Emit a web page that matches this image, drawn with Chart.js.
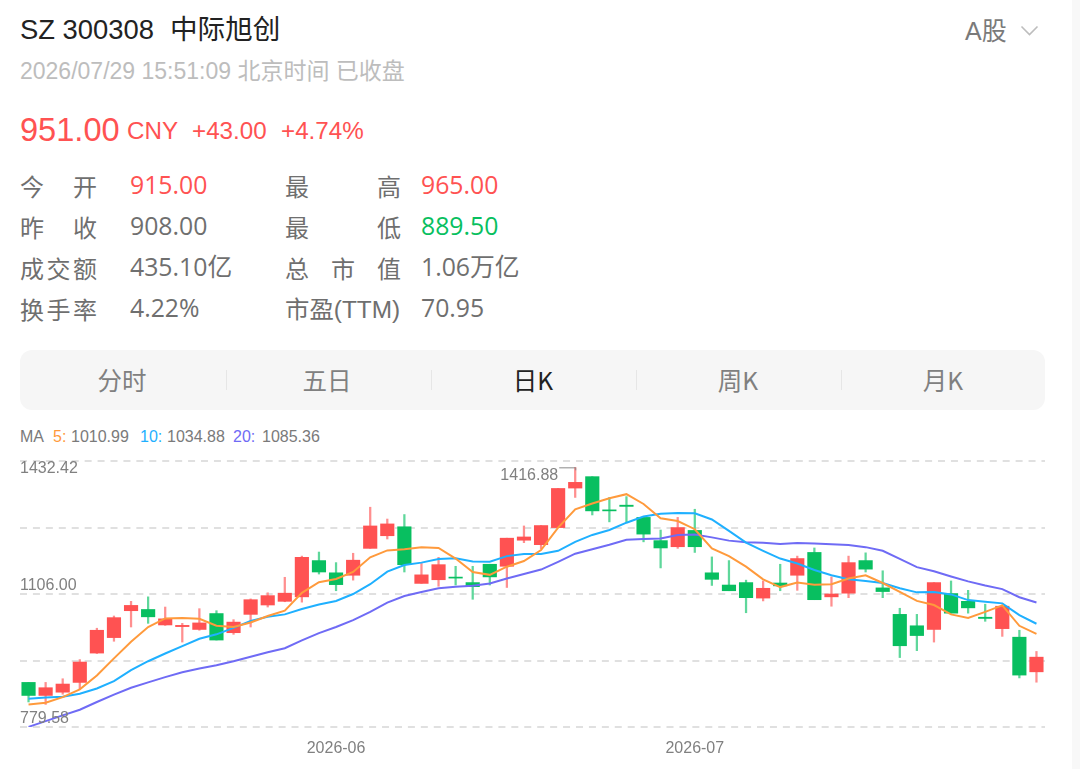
<!DOCTYPE html>
<html lang="zh">
<head>
<meta charset="utf-8">
<title>SZ 300308 中际旭创</title>
<script src="https://cdn.jsdelivr.net/npm/chart.js@4"></script>
<style>
html,body{margin:0;padding:0;background:#fff;width:1080px;height:769px;overflow:hidden}
body{position:relative;font-family:"Liberation Sans","Noto Sans CJK SC",sans-serif}
.strip{position:absolute;left:1072px;top:0;width:8px;height:769px;background:#f8f8f8}
.t{position:absolute;white-space:nowrap;line-height:1;transform:translateY(-50%)}
.m{font-family:"Open Sans","Noto Sans CJK SC",sans-serif;font-size:24.8px;color:#6f6f6f}
.l{font-size:24px}
.red{color:#ff5252}.green{color:#08bf60}
.lab{display:flex;justify-content:space-between}
.tabs{position:absolute;left:20px;top:350px;width:1025px;height:60px;background:#f6f6f6;border-radius:12px}
.tab{position:absolute;top:379.5px;font-size:24.5px;color:#808080;line-height:1;transform:translate(-50%,-50%);white-space:nowrap;font-family:"Noto Sans CJK SC","Liberation Sans",sans-serif}
.div{position:absolute;top:370px;width:1px;height:20px;background:#e6e6e6}
canvas{position:absolute;left:0;top:0}
</style>
</head>
<body>
<div class="strip"></div>
<div class="t" style="left:20px;top:30px;font-size:27.4px;color:#222">SZ 300308</div>
<div class="t" style="left:170px;top:29.5px;font-size:27.6px;color:#222">中际旭创</div>
<div class="t" style="left:965px;top:31px;font-size:25px;color:#7a7a7a">A股</div>
<svg style="position:absolute;left:1020px;top:24px" width="20" height="14"><path d="M1.5 2.5 L9.5 10.5 L17.5 2.5" fill="none" stroke="#bdbdbd" stroke-width="1.6"/></svg>
<div class="t" style="left:20px;top:71px;font-size:23px;color:#bdbdbd">2026/07/29 15:51:09 北京时间 已收盘</div>
<div class="t red" style="left:20px;top:130px;font-size:32.6px">951.00</div>
<div class="t red" style="left:127px;top:131px;font-size:24.2px">CNY</div>
<div class="t red" style="left:192px;top:131px;font-size:24.2px">+43.00</div>
<div class="t red" style="left:281px;top:131px;font-size:24.2px">+4.74%</div>

<div class="t m l lab" style="left:20px;top:187px;width:77px"><span>今</span><span>开</span></div>
<div class="t m l lab" style="left:20px;top:228px;width:77px"><span>昨</span><span>收</span></div>
<div class="t m l lab" style="left:20px;top:269px;width:77px"><span>成</span><span>交</span><span>额</span></div>
<div class="t m l lab" style="left:20px;top:310px;width:77px"><span>换</span><span>手</span><span>率</span></div>
<div class="t m red" style="left:130px;top:184px">915.00</div>
<div class="t m" style="left:130px;top:225px">908.00</div>
<div class="t m" style="left:130px;top:266px">435.10亿</div>
<div class="t m" style="left:130px;top:307px">4.22%</div>

<div class="t m l lab" style="left:285px;top:187px;width:116px"><span>最</span><span>高</span></div>
<div class="t m l lab" style="left:285px;top:228px;width:116px"><span>最</span><span>低</span></div>
<div class="t m l lab" style="left:285px;top:269px;width:116px"><span>总</span><span>市</span><span>值</span></div>
<div class="t m l" style="left:285px;top:310px;font-family:'Liberation Sans','Noto Sans CJK SC',sans-serif;font-size:24.4px">市盈(TTM)</div>
<div class="t m red" style="left:421px;top:184px">965.00</div>
<div class="t m green" style="left:421px;top:225px">889.50</div>
<div class="t m" style="left:421px;top:266px">1.06万亿</div>
<div class="t m" style="left:421px;top:307px">70.95</div>

<div class="tabs"></div>
<div class="tab" style="left:122px">分时</div>
<div class="tab" style="left:327px">五日</div>
<div class="tab" style="left:533px;color:#222">日K</div>
<div class="tab" style="left:738px">周K</div>
<div class="tab" style="left:943px">月K</div>
<div class="div" style="left:225.5px"></div>
<div class="div" style="left:430.5px"></div>
<div class="div" style="left:635.5px"></div>
<div class="div" style="left:840.5px"></div>

<div class="t" style="left:20px;top:437px;font-size:16px;color:#7a7a7a">MA</div>
<div class="t" style="left:53px;top:437px;font-size:16px;color:#ff9a3c">5:</div>
<div class="t" style="left:71px;top:437px;font-size:16px;color:#7a7a7a">1010.99</div>
<div class="t" style="left:140px;top:437px;font-size:16px;color:#1fb0ff">10:</div>
<div class="t" style="left:167px;top:437px;font-size:16px;color:#7a7a7a">1034.88</div>
<div class="t" style="left:233px;top:437px;font-size:16px;color:#6f6bf5">20:</div>
<div class="t" style="left:262px;top:437px;font-size:16px;color:#7a7a7a">1085.36</div>

<canvas id="c" width="1080" height="769"></canvas>
<script>
const categories = [
"2026-05-06","2026-05-07","2026-05-08","2026-05-11","2026-05-12","2026-05-13","2026-05-14","2026-05-15","2026-05-18","2026-05-19",
"2026-05-20","2026-05-21","2026-05-22","2026-05-25","2026-05-26","2026-05-27","2026-05-28","2026-05-29","2026-06-01","2026-06-02",
"2026-06-03","2026-06-04","2026-06-05","2026-06-08","2026-06-09","2026-06-10","2026-06-11","2026-06-12","2026-06-15","2026-06-16",
"2026-06-17","2026-06-18","2026-06-22","2026-06-23","2026-06-24","2026-06-25","2026-06-26","2026-06-29","2026-06-30","2026-07-01",
"2026-07-02","2026-07-03","2026-07-06","2026-07-07","2026-07-08","2026-07-09","2026-07-10","2026-07-13","2026-07-14","2026-07-15",
"2026-07-16","2026-07-17","2026-07-20","2026-07-21","2026-07-22","2026-07-23","2026-07-24","2026-07-27","2026-07-28","2026-07-29"];
const opens = [889,857,865,889,961,999,1065,1068,1030,1026,1019,1058,1011,1056,1079,1088,1099,1188,1158,1152,
1218,1249,1271,1132,1141,1147.5,1134,1179,1174,1238,1227,1269,1366,1394,1312.5,1324,1294,1237,1222,1262,
1158,1128,1134,1096,1133,1152,1208,1099,1108,1188,1121,1056,1028,1019,1107,1088,1049,1021,1000,915];
const highs = [889,889,898,945,1022,1052,1088,1099,1074,1034,1070,1065,1043,1094,1109,1147,1199,1209,1183,1206,
1319,1290,1301,1181,1196,1174,1174,1179,1243,1273,1274,1365,1416.88,1394,1343,1345,1296,1263,1294,1314,
1197,1188,1140,1138,1179,1199,1219,1148,1199,1207,1163,1071,1056,1134,1138,1115,1081,1079,1017,965];
const lows = [841,835,860,873,960,990,1025,1034,1029,988,1017,993,1007,1025,1074,1087,1086,1155,1114,1140,
1218,1241,1160,1132,1125,1128,1093,1128,1122,1232,1217,1269,1343,1300,1283,1283,1234,1170,1218,1208,
1127,1114,1060,1089,1114,1115,1092,1076,1097,1160,1097,950,967,988,1059,1059,1039,1002,900,889.5];
const closes = [857,876,885,939,1017,1048,1078,1050,1045,1029,1035,993,1037,1092,1102,1108,1196,1160,1129,1189,
1273,1278,1178,1153,1178,1145,1124,1148,1243,1246,1274,1365,1380,1310,1310,1321,1253,1219,1269,1222,
1142,1114,1097,1120,1126,1193,1092,1106,1183,1167,1112,979,1004,1134,1059,1072,1046,1076,907,951];
const ma5 = [835,839,853,872,906,948,989,1025,1046,1047,1045,1028,1025,1036,1052,1065,1109,1135,1143,1160,
1196,1213,1216,1221,1219,1193,1160,1153,1173,1187,1214,1269,1314,1328,1341,1351,1327,1292,1285,1265,
1218,1199,1173,1142,1123,1134,1129,1130,1144,1152,1133,1111,1089,1079,1056,1047,1062,1078,1028,1008];
const ma10 = [849,852,854,861,874,892,919,941,960,978,996,1007,1023,1040,1050,1056,1069,1080,1089,1106,
1130,1161,1177,1183,1192,1194,1186,1185,1199,1204,1204,1212,1234,1251,1263,1281,1296,1303,1305,1304,
1289,1261,1232,1212,1193,1181,1165,1152,1142,1138,1133,1120,1110,1111,1105,1091,1087,1083,1054,1033];
const ma20 = [780,794,808,822,841,859,876,889,902,914,923,931,941,952,963,973,992,1010,1025,1042,
1062,1085,1101,1111,1120,1124,1126,1132,1144,1155,1166,1185,1205,1216,1227,1239,1241,1242,1251,1252,
1245,1237,1233,1232,1229,1231,1230,1228,1226,1221,1212,1192,1172,1162,1149,1137,1127,1118,1098,1085];
const yTicks = [779.58,942.79,1106.00,1269.21,1432.42];
const yLabels = [1432.42,1106.00,779.58];
const highIndex = 32;

const RED = '#ff5252', GREEN = '#08bf60', RED_W = '#ff8f8f', GREEN_W = '#5fd79b';
const up = i => closes[i] >= opens[i];

const overlay = {
  id: 'overlay',
  afterDraw(chart) {
    const {ctx, scales: {x, y}} = chart;
    ctx.save();
    ctx.font = '16px "Liberation Sans", sans-serif';
    ctx.fillStyle = '#808080';
    ctx.textBaseline = 'middle';
    ctx.textAlign = 'left';
    yLabels.forEach((v, i) => {
      const dy = i === 0 ? 8 : -8;
      ctx.fillText(v.toFixed(2), chart.chartArea.left, y.getPixelForValue(v) + dy);
    });
    const hx = x.getPixelForValue(highIndex), hy = y.getPixelForValue(highs[highIndex]);
    ctx.strokeStyle = '#8a8a8a';
    ctx.lineWidth = 1;
    ctx.beginPath();
    ctx.moveTo(hx - 16, hy + 0.5);
    ctx.lineTo(hx + 0.5, hy + 0.5);
    ctx.lineTo(hx + 0.5, hy + 3);
    ctx.stroke();
    ctx.textAlign = 'right';
    ctx.fillText(highs[highIndex].toFixed(2), hx - 17, hy + 8);
    ctx.restore();
  }
};

new Chart(document.getElementById('c'), {
  data: {
    labels: categories,
    datasets: [
      {type:'line', label:'MA5', data:ma5, borderColor:'#ff9a3c', borderWidth:2, pointRadius:0, tension:0, order:1},
      {type:'line', label:'MA10', data:ma10, borderColor:'#1fb0ff', borderWidth:2, pointRadius:0, tension:0, order:2},
      {type:'line', label:'MA20', data:ma20, borderColor:'#6f6bf5', borderWidth:2, pointRadius:0, tension:0, order:3},
      {type:'bar', label:'body', data:opens.map((o,i)=>[o,closes[i]]), barThickness:13.5, grouped:false,
       backgroundColor:c=>up(c.dataIndex)?RED:GREEN, borderWidth:0, order:4},
      {type:'bar', label:'wick', data:lows.map((l,i)=>[l,highs[i]]), barThickness:1.6, grouped:false,
       backgroundColor:c=>up(c.dataIndex)?RED_W:GREEN_W, borderWidth:0, order:5}
    ]
  },
  options: {
    responsive:false,
    animation:false,
    layout:{padding:{left:20,right:35,top:461,bottom:0}},
    plugins:{legend:{display:false},tooltip:{enabled:false}},
    scales:{
      x:{
        type:'category', offset:true,
        grid:{display:false,drawTicks:false}, border:{display:false},
        afterFit(s){ s.height = 42; },
        ticks:{
          autoSkip:false, maxRotation:0, minRotation:0, padding:12,
          color:'#808080', font:{family:'"Liberation Sans", sans-serif', size:16},
          callback(v,i){
            if(i===0) return '';
            const m = categories[i].slice(0,7);
            return m !== categories[i-1].slice(0,7) ? m : '';
          }
        }
      },
      y:{
        type:'linear', min:779.58, max:1432.42,
        afterFit(s){ s.width = 0; },
        afterBuildTicks(s){ s.ticks = yTicks.map(value=>({value})); },
        grid:{color:'#e0e0e0', lineWidth:2, drawTicks:false},
        border:{display:false, dash:[7,5.93]},
        ticks:{display:false}
      }
    }
  },
  plugins:[overlay]
});
</script>
</body>
</html>
